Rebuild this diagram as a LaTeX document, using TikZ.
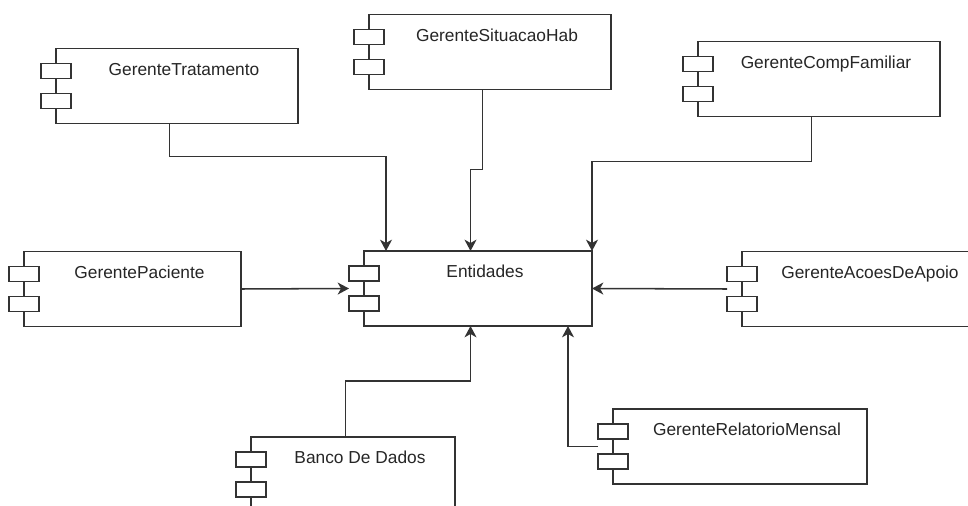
\documentclass[tikz,border=0pt]{standalone}
\usepackage{fontspec}
\setmainfont{Liberation Sans}
\usetikzlibrary{arrows.meta, positioning, calc}

\begin{document}
\begin{tikzpicture}[
    x=0.75pt, y=-0.75pt,
    >={Stealth[length=8.5pt, width=9pt, inset=2.5pt]},
    lbl/.style={font=\fontsize{13}{15}\selectfont, text=black!85, anchor=base, xshift=5.25pt, yshift=-19.9pt},
    comp/.style={draw=black!80, line width=1.15pt, fill=white, inner sep=0pt, outer sep=0pt,
        minimum width=#1*0.75pt, minimum height=56.25pt},
    port/.style={draw=black!80, line width=1.15pt, fill=white, inner sep=0pt, outer sep=0pt,
        minimum width=22.5pt, minimum height=11.25pt},
    flow/.style={->, draw=black!80, line width=1.15pt}
]
\clip (0,0) rectangle (968,506);

% Components
\node[comp=242, label={[lbl]north:GerenteTratamento}] (trat) at (177,86) {};
\node[comp=242, label={[lbl]north:GerenteSituacaoHab}] (sit) at (490,52) {};
\node[comp=242, label={[lbl]north:GerenteCompFamiliar}] (comp) at (819,79) {};
\node[comp=217, label={[lbl]north:GerentePaciente}] (pac) at (132.5,289) {};
\node[comp=228, label={[lbl]north:Entidades}] (ent) at (478,288.5) {};
\node[comp=242, label={[lbl]north:GerenteAcoesDeApoio}] (acoes) at (863,289) {};
\node[comp=204, label={[lbl]north:Banco De Dados}] (banco) at (353,474.5) {};
\node[comp=254, label={[lbl]north:GerenteRelatorioMensal}] (rel) at (740,446.5) {};

% Ports on the left edge
\foreach \n in {trat, sit, comp, pac, ent, acoes, banco, rel} {
    \node[port] (\n-a) at ($(\n.west)+(0,-15)$) {};
    \node[port] (\n-b) at ($(\n.west)+(0,15)$) {};
}

% Dependencies on Entidades
\draw[flow] ($(trat.south)+(-7.5,0)$) -- ++(0,33) -| ($(ent.north west)+(22,0)$);
\draw[flow] ($(sit.south)+(-7.5,0)$) -- ++(0,80) -| ($(ent.north)+(-7.5,0)$);
\draw[flow] ($(comp.south)+(-7.5,0)$) -- ++(0,45) -| (ent.north east);
\draw[flow] (pac.east) -- ($(ent.west)+(-15,0)$);
\draw[flow] ($(acoes.west)+(-15,0)$) -- (ent.east);
\draw[flow] ($(banco.north)+(-7.5,0)$) -- ++(0,-56) -| ($(ent.south)+(-7.5,0)$);
\draw[flow] ($(rel.west)+(-15,0)$) -| ($(ent.south east)+(-24,0)$);

\end{tikzpicture}
\end{document}
